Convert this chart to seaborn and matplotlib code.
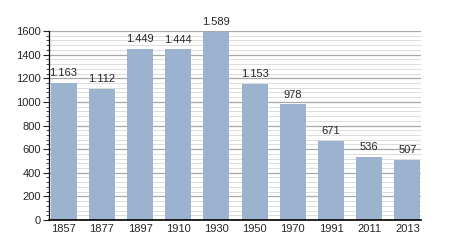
import matplotlib
matplotlib.use("Agg")
import matplotlib.pyplot as plt
import seaborn as sns
import pandas as pd
from matplotlib.ticker import MultipleLocator

years = ["1857", "1877", "1897", "1910", "1930", "1950", "1970", "1991", "2011", "2013"]
population = [1163, 1112, 1449, 1444, 1589, 1153, 978, 671, 536, 507]
labels = ["1.163", "1.112", "1.449", "1.444", "1.589", "1.153", "978", "671", "536", "507"]

sns.set_style("white")
plt.rcParams['font.family'] = ['Liberation Sans', 'DejaVu Sans']

df = pd.DataFrame({"year": years, "pop": population})

fig = plt.figure(figsize=(4.5, 2.5), dpi=100)
ax = fig.add_axes([0.109, 0.12, 0.827, 0.756])

sns.barplot(data=df, x="year", y="pop", color="#9bb3cf", saturation=1, width=0.68,
            linewidth=0, edgecolor="none", ax=ax, zorder=3)

ax.set_ylim(0, 1600)
ax.set_xlim(-0.38, 9.36)
ax.yaxis.set_major_locator(MultipleLocator(200))
ax.yaxis.set_minor_locator(MultipleLocator(40))
ax.grid(which="major", axis="y", color="#a8a8a8", linewidth=0.9, zorder=0)
ax.grid(which="minor", axis="y", color="#dcdcdc", linewidth=0.7, zorder=0)
ax.set_axisbelow(True)

for s in ["top", "right"]:
    ax.spines[s].set_visible(False)
for s in ["left", "bottom"]:
    ax.spines[s].set_color("black")
    ax.spines[s].set_zorder(5)
ax.spines["left"].set_linewidth(0.9)
ax.spines["bottom"].set_linewidth(1.2)

ax.tick_params(axis="y", which="major", length=4, width=0.8, labelsize=8, pad=2, left=True)
ax.tick_params(axis="y", which="minor", length=2, width=0.6, left=True)
ax.tick_params(axis="x", length=0, labelsize=8, pad=3)
ax.set_xlabel("")
ax.set_ylabel("")

ax.bar_label(ax.containers[0], labels=labels, padding=3.5, fontsize=8)

fig.savefig("out.png", dpi=100)
